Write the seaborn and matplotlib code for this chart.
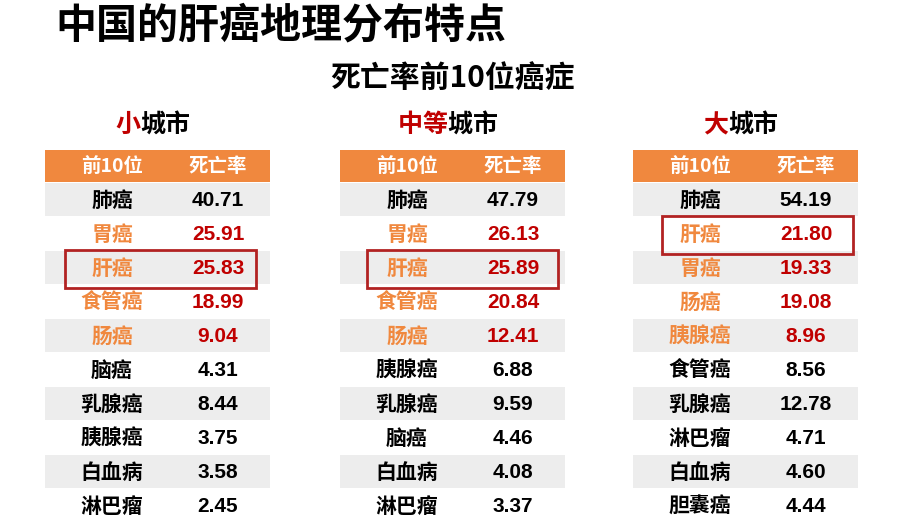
import matplotlib
matplotlib.use("Agg")
import matplotlib.pyplot as plt
import seaborn as sns
from matplotlib.patches import Rectangle

sns.set_theme(style="white")
plt.rcParams['font.family'] = ['Noto Sans CJK SC', 'DejaVu Sans']
plt.rcParams['text.color'] = 'black'

title = "中国的肝癌地理分布特点"
subtitle = "死亡率前10位癌症"
headers = ["前10位", "死亡率"]
group_red = ["小", "中等", "大"]
group_rest = ["城市", "城市", "城市"]
small_names = ["肺癌", "胃癌", "肝癌", "食管癌", "肠癌", "脑癌", "乳腺癌", "胰腺癌", "白血病", "淋巴瘤"]
small_vals = [40.71, 25.91, 25.83, 18.99, 9.04, 4.31, 8.44, 3.75, 3.58, 2.45]
mid_names = ["肺癌", "胃癌", "肝癌", "食管癌", "肠癌", "胰腺癌", "乳腺癌", "脑癌", "白血病", "淋巴瘤"]
mid_vals = [47.79, 26.13, 25.89, 20.84, 12.41, 6.88, 9.59, 4.46, 4.08, 3.37]
big_names = ["肺癌", "肝癌", "胃癌", "肠癌", "胰腺癌", "食管癌", "乳腺癌", "淋巴瘤", "白血病", "胆囊癌"]
big_vals = [54.19, 21.80, 19.33, 19.08, 8.96, 8.56, 12.78, 4.71, 4.60, 4.44]
liver_row = [2, 2, 1]

ORANGE = "#F0883E"
RED = "#C00000"
GRAY = "#EDEDED"
BOX = "#B22222"

fig = plt.figure(figsize=(9.24, 5.19), dpi=100)
ax = fig.add_axes([0, 0, 1, 1])
ax.set_xlim(0, 924)
ax.set_ylim(519, 0)
ax.axis("off")

ax.text(55, 25, title, fontsize=29.5, fontweight="bold", va="center", ha="left")
ax.text(452, 78, subtitle, fontsize=21.5, fontweight="bold", va="center", ha="center")

tables = [(small_names, small_vals, 45), (mid_names, mid_vals, 340), (big_names, big_vals, 633)]
box_off = [20, 27, 29]
W = 225
for t, (names, vals, x0) in enumerate(tables):
    r = group_red[t]; rest = group_rest[t]
    full = r + rest
    cx = x0 + W / 2 - 5
    n = len(full)
    cw = 25
    start = cx - n * cw / 2
    for i, ch in enumerate(full):
        ax.text(start + cw * (i + 0.5), 125, ch, fontsize=18, fontweight="bold",
                color=RED if i < len(r) else "black", ha="center", va="center")
    ax.add_patch(Rectangle((x0, 150), W, 32, color=ORANGE, lw=0))
    ax.text(x0 + 67, 166, headers[0], color="white", fontsize=14, fontweight="bold", ha="center", va="center")
    ax.text(x0 + 173, 166, headers[1], color="white", fontsize=14, fontweight="bold", ha="center", va="center")
    for i, (nm, v) in enumerate(zip(names, vals)):
        y = 183 + 34 * i
        if i % 2 == 0:
            ax.add_patch(Rectangle((x0, y), W, 33, color=GRAY, lw=0))
        special = 1 <= i <= 4
        ax.text(x0 + 67, y + 17, nm, fontsize=15, fontweight="bold",
                color=ORANGE if special else "black", ha="center", va="center")
        ax.text(x0 + 173, y + 17, f"{v:.2f}", fontsize=15, fontweight="bold",
                color=RED if special else "black", ha="center", va="center",
                family=["Liberation Sans", "DejaVu Sans"])
    lr = liver_row[t]
    ax.add_patch(Rectangle((x0 + box_off[t], 183 + 34 * lr - 1), 191, 38, fill=False, ec=BOX, lw=2))

fig.savefig("out.png", dpi=100)
